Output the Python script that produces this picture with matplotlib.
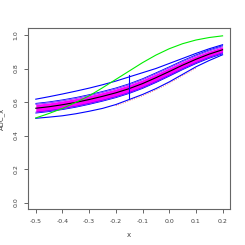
import matplotlib
matplotlib.use("Agg")
import matplotlib.pyplot as plt

# data
x = [-0.5, -0.45, -0.4, -0.35, -0.3, -0.25, -0.2, -0.15, -0.1, -0.05, 0.0, 0.05, 0.1, 0.15, 0.2]
center = [0.563, 0.572, 0.584, 0.598, 0.615, 0.634, 0.655, 0.680, 0.710, 0.745, 0.782, 0.820, 0.855, 0.886, 0.912]
band_lo = [0.540, 0.549, 0.561, 0.575, 0.592, 0.611, 0.632, 0.657, 0.687, 0.722, 0.760, 0.799, 0.835, 0.867, 0.894]
band_hi = [0.586, 0.595, 0.607, 0.621, 0.638, 0.657, 0.678, 0.703, 0.733, 0.768, 0.804, 0.841, 0.875, 0.905, 0.930]
halo_lo = [0.534, 0.543, 0.555, 0.569, 0.586, 0.605, 0.626, 0.651, 0.681, 0.716, 0.754, 0.793, 0.829, 0.861, 0.888]
halo_hi = [0.592, 0.601, 0.613, 0.627, 0.644, 0.663, 0.684, 0.709, 0.739, 0.774, 0.810, 0.847, 0.881, 0.911, 0.936]
outer_hi = [0.617, 0.632, 0.648, 0.665, 0.683, 0.703, 0.725, 0.750, 0.775, 0.800, 0.830, 0.860, 0.890, 0.918, 0.942]
outer_lo = [0.503, 0.510, 0.518, 0.530, 0.545, 0.562, 0.585, 0.615, 0.645, 0.680, 0.720, 0.765, 0.810, 0.848, 0.882]
green = [0.505, 0.532, 0.562, 0.598, 0.637, 0.685, 0.735, 0.785, 0.835, 0.880, 0.918, 0.948, 0.970, 0.985, 0.995]
red_x = [-0.2, -0.15, -0.1, -0.05, 0.0, 0.05, 0.1]
red_y = [0.578, 0.607, 0.637, 0.672, 0.712, 0.757, 0.802]
vline_x = -0.15
vline_lo, vline_hi = 0.618, 0.762

xticks = [-0.5, -0.4, -0.3, -0.2, -0.1, 0.0, 0.1, 0.2]
yticks = [0.0, 0.2, 0.4, 0.6, 0.8, 1.0]

fig = plt.figure(figsize=(2.45, 2.45), dpi=100)
ax = fig.add_axes([0.1155, 0.1457, 0.8235, 0.7388])

# blue halo around the band
for arr in (halo_lo, halo_hi):
    ax.plot(x, arr, color="blue", lw=0.6)
ax.fill_between(x, band_lo, band_hi, color="magenta", lw=0)
ax.plot(x, band_lo, color="#6a00ff", lw=0.5)
ax.plot(x, band_hi, color="#6a00ff", lw=0.5)
ax.plot(x, center, color="black", lw=0.8)
ax.plot(x, outer_hi, color="blue", lw=0.8)
ax.plot(x, outer_lo, color="blue", lw=0.8)
ax.plot(red_x, red_y, color="red", lw=0.7, ls=(0, (1, 1.5)), alpha=0.5)
ax.plot(x, green, color="#00ee00", lw=0.8)
ax.plot([vline_x, vline_x], [vline_lo, vline_hi], color="blue", lw=0.8)

ax.set_xlim(-0.528, 0.228)
ax.set_ylim(-0.04, 1.04)
ax.set_xticks(xticks)
ax.set_xticklabels(["%.1f" % v for v in xticks])
ax.set_yticks(yticks)
ax.set_yticklabels(["%.1f" % v for v in yticks], rotation=90, va="center")
ax.tick_params(labelsize=4.5, length=3, width=0.6, color="0.3", labelcolor="0.25", pad=4)
for s in ax.spines.values():
    s.set_color("0.4")
    s.set_linewidth(0.8)
ax.set_xlabel("x", fontsize=5, color="0.25", labelpad=6)
ax.set_ylabel("AUC_x", fontsize=5, color="0.25", labelpad=6)

fig.savefig("out.png", dpi=100)
